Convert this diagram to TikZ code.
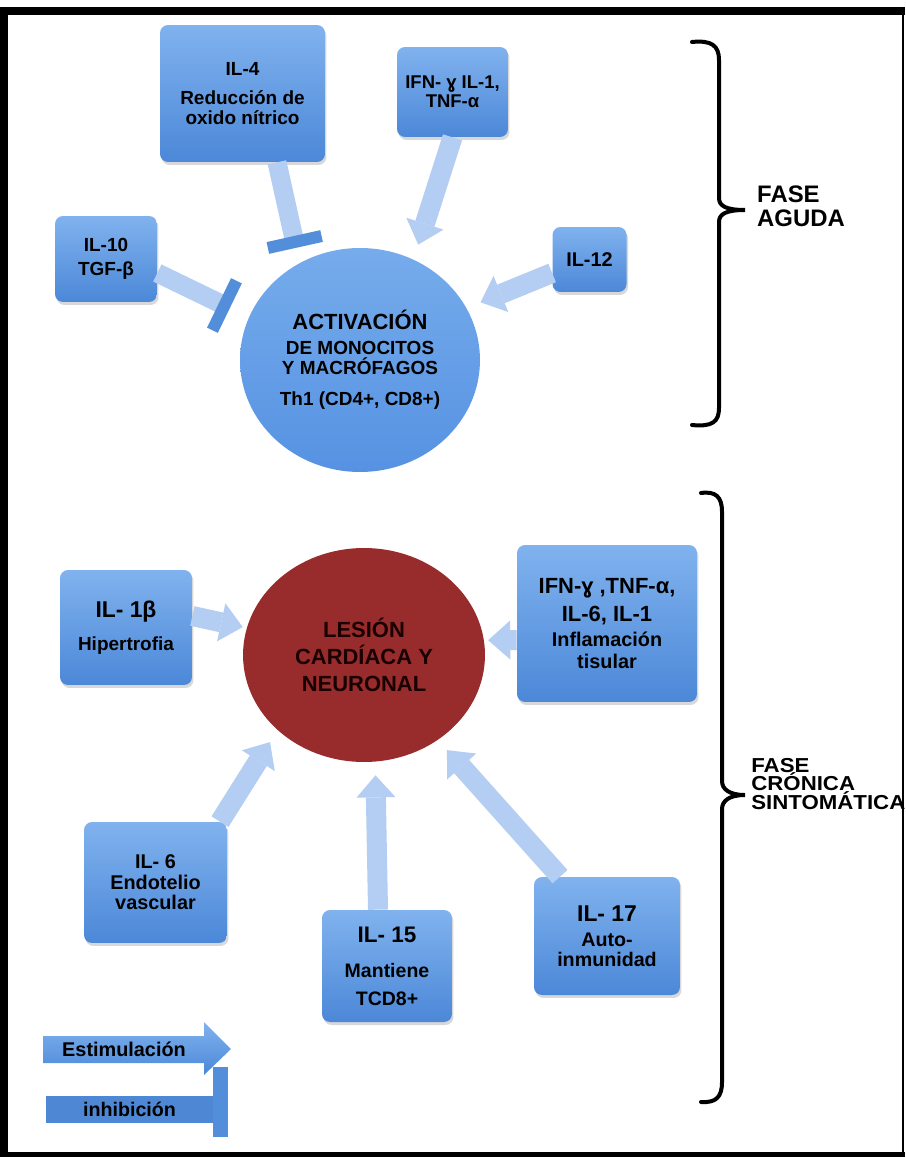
\documentclass[tikz,border=0pt]{standalone}
\usepackage{fontspec}
\setmainfont{Liberation Sans}
\newfontfamily\widefont[FakeStretch=1.1]{Liberation Sans}
\usetikzlibrary{shapes.geometric,arrows.meta,shadows}

\definecolor{boxtop}{RGB}{128,178,238}
\definecolor{boxbot}{RGB}{76,136,216}
\definecolor{acttop}{RGB}{118,172,236}
\definecolor{actbot}{RGB}{86,146,226}
\definecolor{lesred}{RGB}{152,44,44}
\definecolor{arrowblue}{RGB}{180,205,242}
\definecolor{barblue}{RGB}{82,142,218}
\definecolor{legbox}{RGB}{78,136,212}

\begin{document}
\begin{tikzpicture}[x=0.02cm,y=-0.02cm,
  box/.style={rounded corners=0.16cm, top color=boxtop, bottom color=boxbot,
    drop shadow={shadow xshift=0.03cm,shadow yshift=-0.06cm,opacity=0.3},
    align=center, inner sep=0pt},
  stim/.style={draw=arrowblue, line width=0.4cm,
    -{Triangle[width=0.78cm,length=0.44cm,line width=0pt]}},
  inhib/.style={draw=arrowblue, line width=0.38cm,
    -{Bar[width=1.1cm,line width=0.24cm,color=barblue]}},
  brace/.style={line width=0.08cm, line cap=round},
  small/.style={font=\bfseries\fontsize{10.8pt}{11.3pt}\selectfont},
  ]
\useasboundingbox (0,0) rectangle (905,1158);
\fill[white] (0,0) rectangle (905,1158);

% frame
\fill (0,7) rectangle (905,15);
\fill (0,7) rectangle (8,1157);
\fill (0,1152) rectangle (905,1157);
\draw[line width=0.04cm] (903,7) -- (903,1157);

% fase aguda
\node[ellipse, top color=acttop, bottom color=actbot, minimum width=4.8cm,
  minimum height=4.48cm, inner sep=0pt, align=center, small] (act) at (360,360)
  {{\fontsize{12.5pt}{12.5pt}\selectfont ACTIVACIÓN}\\[2.9pt]
   DE MONOCITOS\\ Y MACRÓFAGOS\\[6.3pt] Th1 (CD4+, CD8+)};
\node[box, small, minimum width=3.3cm, minimum height=2.74cm] (il4) at (242.5,93.5)
  {IL-4\\[5.7pt] Reducción de\\ oxido nítrico};
\node[box, minimum width=2.22cm, minimum height=1.8cm,
  font=\bfseries\fontsize{10.5pt}{10.8pt}\selectfont] (ifna) at (452.5,92)
  {IFN- ɣ IL-1,\\ TNF-α};
\node[box, small, minimum width=2.04cm, minimum height=1.72cm] (il10) at (106,259)
  {IL-10\\[2.3pt] TGF-β};
\node[box, minimum width=1.48cm, minimum height=1.3cm,
  font=\bfseries\fontsize{11.3pt}{11.3pt}\selectfont] (il12) at (589.5,259.5) {IL-12};

\draw[inhib, shorten >=0.31cm] ([xshift=0.69cm]il4.south) -- (act.122);
\draw[inhib, shorten >=0.42cm] ([yshift=-0.28cm]il10.east) -- (act.159);
\draw[stim, shorten >=0.31cm] (ifna.south) -- (act.62);
\draw[stim, shorten >=0.3cm] ([yshift=-0.27cm]il12.west) -- (act.26);

\draw[brace] (692,42) .. controls (712,40) and (719,46) .. (719,60) -- (719,198)
  .. controls (719,206) and (726,210) .. (745,210)
  .. controls (726,210) and (719,214) .. (719,222) -- (719,408)
  .. controls (719,422) and (712,427) .. (692,425);
\node[anchor=west, align=left, font=\bfseries\fontsize{13.6pt}{13.6pt}\selectfont]
  (aguda) at (751,206) {FASE\\AGUDA};

% fase cronica
\node[ellipse, fill=lesred, minimum width=4.84cm, minimum height=4.28cm,
  inner sep=0pt, align=center, text=black!90!red,
  font=\bfseries\fontsize{12.5pt}{15.3pt}\selectfont] (lesion) at (364,655)
  {LESIÓN\\ CARDÍACA Y\\ NEURONAL};
\node[box, small, minimum width=2.64cm, minimum height=2.3cm] (il1b) at (126,627.5)
  {{\fontsize{13pt}{13pt}\selectfont IL- 1β}\\[7.4pt] Hipertrofia};
\node[box, minimum width=3.6cm, minimum height=3.14cm,
  font=\bfseries\fontsize{11.3pt}{12.5pt}\selectfont] (ifnb) at (607,623.5)
  {{\fontsize{12.5pt}{12.5pt}\selectfont IFN-ɣ ,TNF-α,}\\[3.4pt]
   {\fontsize{12.5pt}{12.5pt}\selectfont IL-6, IL-1}\\[1.7pt] Inflamación\\ tisular};
\node[box, minimum width=2.86cm, minimum height=2.42cm,
  font=\bfseries\fontsize{11.3pt}{11.6pt}\selectfont] (il6) at (155.5,882.5)
  {IL- 6\\ Endotelio\\ vascular};
\node[box, minimum width=2.6cm, minimum height=2.24cm,
  font=\bfseries\fontsize{11.1pt}{11.3pt}\selectfont] (il15) at (387,966)
  {{\fontsize{12.8pt}{12.8pt}\selectfont IL- 15}\\[8.5pt] Mantiene\\[4.6pt] TCD8+};
\node[box, minimum width=2.92cm, minimum height=2.36cm,
  font=\bfseries\fontsize{11.2pt}{11.3pt}\selectfont] (il17) at (607,936)
  {{\fontsize{13pt}{13pt}\selectfont IL- 17}\\[2.9pt] Auto-\\ inmunidad};

\draw[stim, shorten >=0.08cm] ([yshift=0.23cm]il1b.east) -- (lesion.167);
\draw[stim, shorten >=0.08cm] ([yshift=-0.33cm]ifnb.west) -- (lesion.7);
\draw[stim, shorten >=0.28cm] ([xshift=1.29cm]il6.north) -- (lesion.221);
\draw[stim, shorten >=0.27cm] ([xshift=-0.18cm]il15.north) -- (lesion.276);
\draw[stim, shorten >=0.27cm] ([xshift=-0.94cm]il17.north) -- (lesion.311);

\draw[brace] (701,493) .. controls (716,491) and (722,497) .. (722,512) -- (722,781)
  .. controls (722,789) and (729,795) .. (745,795)
  .. controls (729,795) and (722,801) .. (722,809) -- (722,1082)
  .. controls (722,1097) and (716,1103) .. (701,1102);
\node[anchor=west, align=left, inner sep=0pt,
  font=\widefont\bfseries\fontsize{11.5pt}{10.5pt}\selectfont]
  (cronica) at (751,784) {FASE\\ CRÓNICA\\ SINTOMÁTICA};

% leyenda
\shade[top color=boxtop, bottom color=boxbot] (43,1036) -- (204,1036) -- (204,1022)
  -- (231,1049) -- (204,1075) -- (204,1063) -- (43,1063) -- cycle;
\node[font=\bfseries\fontsize{11.3pt}{11.3pt}\selectfont] (estim) at (124,1049.5)
  {Estimulación};
\node[fill=legbox, minimum width=3.34cm, minimum height=0.54cm, inner sep=0pt,
  font=\bfseries\fontsize{11.2pt}{11.2pt}\selectfont] (inhleg) at (129.5,1109.5)
  {inhibición};
\fill[barblue] (213,1067) rectangle (228,1137);
\end{tikzpicture}
\end{document}
